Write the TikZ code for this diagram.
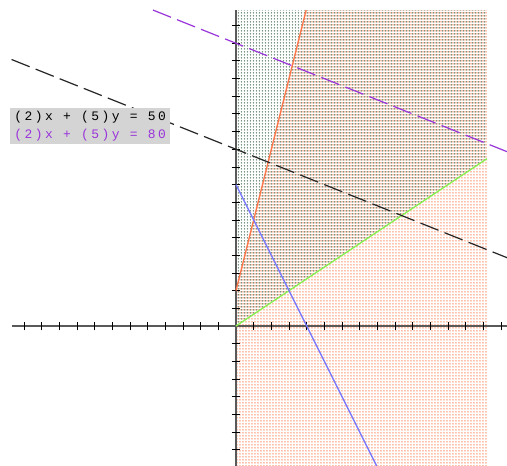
\documentclass[tikz,border=0pt]{standalone}
\usepackage{fontspec}
\newfontfamily\plotmono[LetterSpace=19]{Liberation Mono}
\usetikzlibrary{patterns.meta}
\definecolor{lineorange}{HTML}{FF7548}
\definecolor{linegreen}{HTML}{88F050}
\definecolor{lineblue}{HTML}{7878FF}
\definecolor{linepurple}{HTML}{9A35DA}
\definecolor{dotgreen}{HTML}{5E8068}
\definecolor{dotorange}{HTML}{FF8052}
\definecolor{labelgray}{HTML}{D4D4D4}
\tikzset{
  axisline/.style={draw=black!65,line width=1.6pt},
  tickmark/.style={draw=black,line width=0.9pt},
  constraint/.style={line width=1.3pt},
  objline/.style={line width=1.2pt,dash pattern=on 19.5pt off 6.5pt},
  eqlabel/.style={fill=labelgray,anchor=north west,inner xsep=1.5bp,inner ysep=0pt,
    minimum height=17.5bp,minimum width=160bp,text height=10bp,text depth=2.5bp,
    font=\plotmono\fontsize{13}{15}\selectfont}
}
\begin{document}
\begin{tikzpicture}[x=17.67bp,y=17.67bp]
\useasboundingbox (-13.356,-7.923) rectangle (15.337,18.449);
% feasible regions
\fill[pattern={Dots[distance=3bp,radius=0.75bp]},pattern color=dotorange]
  (0,-7.92) -- (14.2,-7.92) -- (14.2,17.88) -- (3.97,17.88) -- (0,2) -- cycle;
\fill[pattern={Dots[distance=3bp,radius=0.75bp,xshift=1.5bp]},pattern color=dotgreen]
  (0,0) -- (14.2,9.467) -- (14.2,17.88) -- (0,17.88) -- cycle;
% axes
\draw[axisline] (-12.7,0) -- (15.34,0);
\draw[axisline] (0,-7.92) -- (0,17.9);
\foreach \i in {-12,...,-1,1,2,...,15}
  \draw[tickmark] (\i,-0.25) -- (\i,0.25);
\foreach \j in {-7,...,-1,1,2,...,17}
  \draw[tickmark] (-0.25,\j) -- (0.25,\j);
% constraints
\draw[constraint,lineorange] (0,2) -- (3.97,17.88);
\draw[constraint,linegreen] (0,0) -- (14.2,9.467);
\draw[constraint,lineblue] (0,8) -- (7.96,-7.92);
% objective lines
\draw[objline,black!85] (-12.7,15.08) -- (15.34,3.864);
\draw[objline,linepurple] (-4.7,17.88) -- (15.34,9.864);
\node[eqlabel,text=black] (lab50) at (-12.79,12.34) {(2)x + (5)y = 50};
\node[eqlabel,text=linepurple] (lab80) at (lab50.south west) {(2)x + (5)y = 80};
\end{tikzpicture}
\end{document}
